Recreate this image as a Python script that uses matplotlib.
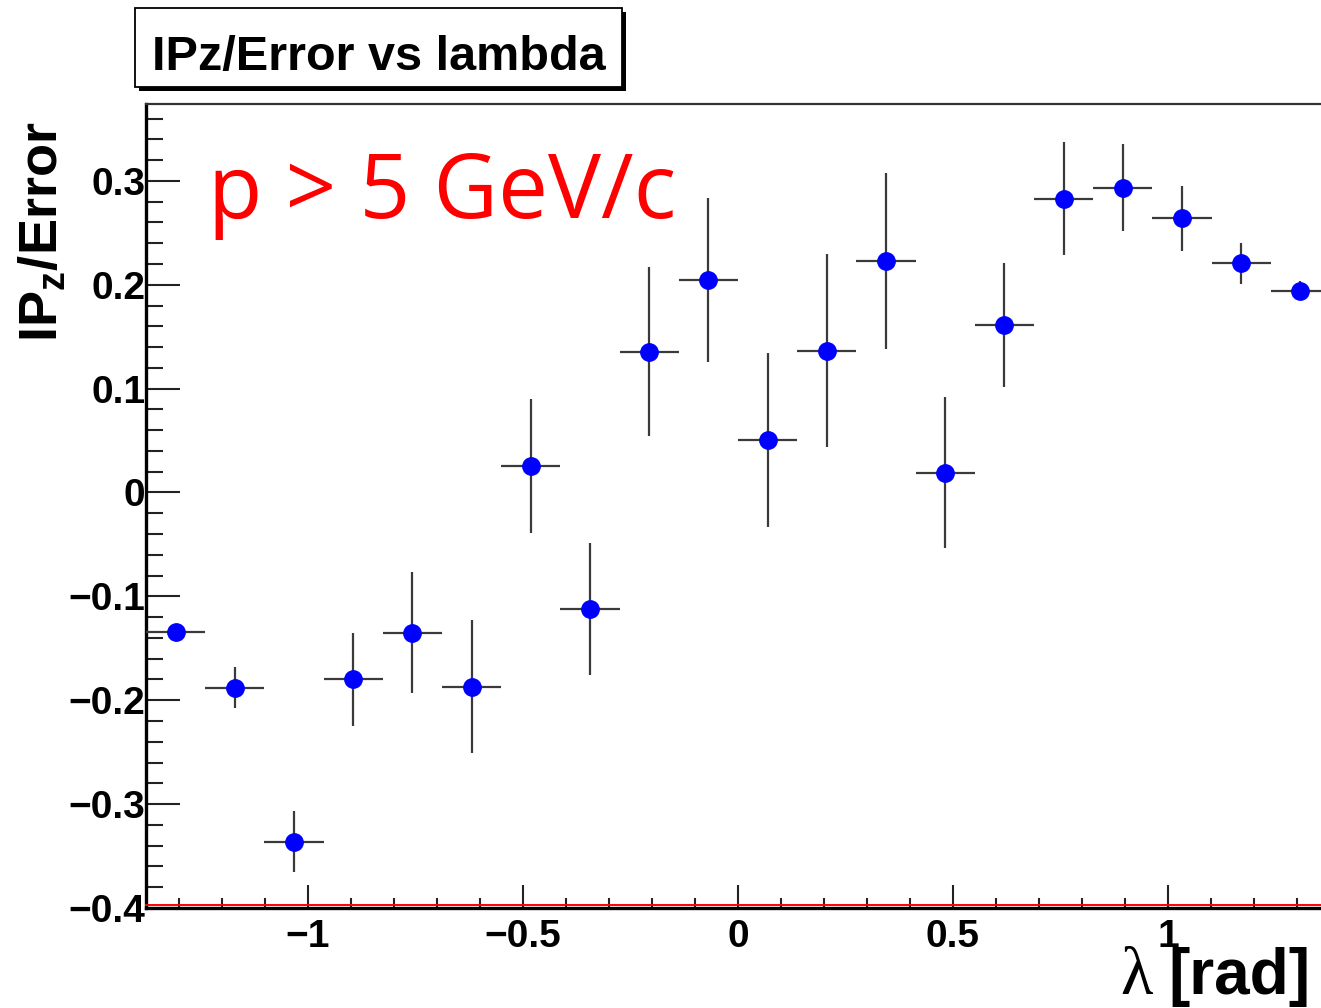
import numpy as np
import matplotlib
matplotlib.use("Agg")
import matplotlib.pyplot as plt
from matplotlib.ticker import MultipleLocator, FuncFormatter
from matplotlib.patches import Rectangle
from matplotlib.lines import Line2D
import matplotlib.transforms as mtransforms

# ---------------- data ----------------
lam_min = -1.377
lam_max = 1.377
n_bins = 20
ipz_err = [-0.1345, -0.1878, -0.3361, -0.1798, -0.1349, -0.1869, 0.0256, -0.1124,
           0.1357, 0.2047, 0.0506, 0.1366, 0.2230, 0.0192, 0.1614, 0.2827,
           0.2936, 0.2641, 0.2208, 0.1944]
ipz_unc = [0.005, 0.020, 0.0295, 0.0446, 0.058, 0.0639, 0.0645, 0.0634,
           0.0815, 0.0787, 0.084, 0.0926, 0.0846, 0.073, 0.0594, 0.0544,
           0.0421, 0.0312, 0.0197, 0.0088]
y_lo, y_hi = -0.4, 0.374
title_text = "IPz/Error vs lambda"
cut_text = "p > 5 GeV/c"

edges = np.linspace(lam_min, lam_max, n_bins + 1)
centers = 0.5 * (edges[:-1] + edges[1:])
half_w = 0.5 * np.diff(edges)

# ---------------- style ----------------
plt.rcParams['font.family'] = ['Liberation Sans', 'DejaVu Sans']
plt.rcParams['font.weight'] = 'bold'
plt.rcParams['mathtext.fontset'] = 'custom'
plt.rcParams['mathtext.rm'] = 'Liberation Sans:bold'
plt.rcParams['mathtext.it'] = 'Liberation Sans:bold'
plt.rcParams['mathtext.bf'] = 'Liberation Sans:bold'
plt.rcParams['mathtext.default'] = 'rm'

W, H = 1321, 1008
fig = plt.figure(figsize=(W / 100, H / 100), dpi=100)
fig.patch.set_facecolor('white')

ax_l, ax_r, ax_t, ax_b = 146, 1330, 104, 908
ax = fig.add_axes([ax_l / W, (H - ax_b) / H, (ax_r - ax_l) / W, (ax_b - ax_t) / H])
ax.set_xlim(lam_min, lam_max)
ax.set_ylim(y_lo, y_hi)

ax.errorbar(centers, ipz_err, xerr=half_w, yerr=ipz_unc, fmt='o',
            color='#0000ff', ms=12.5, mec='#0000ff', ecolor='#3a3a3a',
            elinewidth=1.6, capsize=0, zorder=3)

# spines
ax.spines['right'].set_visible(False)
ax.spines['top'].set_color('#333333')
ax.spines['top'].set_linewidth(1.6)
ax.spines['left'].set_color('black')
ax.spines['left'].set_linewidth(2.4)
ax.spines['bottom'].set_color('black')
ax.spines['bottom'].set_linewidth(2.4)

# red line just above the bottom axis
red = Line2D([0, 1], [0, 0], color='red', lw=1.4,
             transform=ax.transAxes + mtransforms.ScaledTranslation(0, 2.2 / 72, fig.dpi_scale_trans),
             clip_on=False, zorder=4)
ax.add_line(red)

# ticks
ax.xaxis.set_major_locator(MultipleLocator(0.5))
ax.xaxis.set_minor_locator(MultipleLocator(0.1))
ax.yaxis.set_major_locator(MultipleLocator(0.1))
ax.yaxis.set_minor_locator(MultipleLocator(0.02))


def fmt(v, pos):
    v = round(v, 6)
    if v == 0:
        return '0'
    return ('%g' % v).replace('-', '\u2212')


ax.xaxis.set_major_formatter(FuncFormatter(fmt))
ax.yaxis.set_major_formatter(FuncFormatter(fmt))

ax.tick_params(axis='y', which='major', direction='in', length=24.5, width=1.5,
               color='#222222', pad=0.5, labelsize=28, right=False)
ax.tick_params(axis='y', which='minor', direction='in', length=12, width=1.5,
               color='#222222', right=False)
ax.tick_params(axis='x', which='major', direction='in', length=16.5, width=1.5,
               color='#222222', pad=8, labelsize=28, top=False)
ax.tick_params(axis='x', which='minor', direction='in', length=7.2, width=1.5,
               color='#222222', top=False)

# y axis title
fig.text(43 / W, (H - 232) / H, r'IP$_{\mathrm{z}}$/Error', rotation=90,
         ha='center', va='center', fontsize=39, fontweight='bold')

# x axis title: lambda (serif, regular) + [rad] (bold)
fig.text(1311 / W, (H - 994) / H, '[rad]', ha='right', va='baseline',
         fontsize=46, fontweight='bold')
fig.text(1153 / W, (H - 994) / H, '\u03bb', ha='right', va='baseline',
         fontsize=48, fontweight='normal', family=['Liberation Serif', 'DejaVu Serif'])

# title box with shadow
bx0, bx1, by0, by1 = 135, 622, 8, 87
sh = 4
fig.add_artist(Rectangle(((bx0 + sh) / W, (H - by1 - sh) / H), (bx1 - bx0) / W, (by1 - by0) / H,
                         transform=fig.transFigure, facecolor='black', edgecolor='black', lw=0))
fig.add_artist(Rectangle((bx0 / W, (H - by1) / H), (bx1 - bx0) / W, (by1 - by0) / H,
                         transform=fig.transFigure, facecolor='white', edgecolor='black', lw=1.3))
fig.text(379 / W, (H - 70) / H, title_text, ha='center', va='baseline',
         fontsize=35, fontweight='bold')

# red annotation
fig.text(208 / W, (H - 218) / H, cut_text, ha='left', va='baseline', color='red',
         fontsize=64, fontweight='normal', family=['Open Sans', 'DejaVu Sans'])

fig.savefig('out.png', dpi=100, facecolor='white')
